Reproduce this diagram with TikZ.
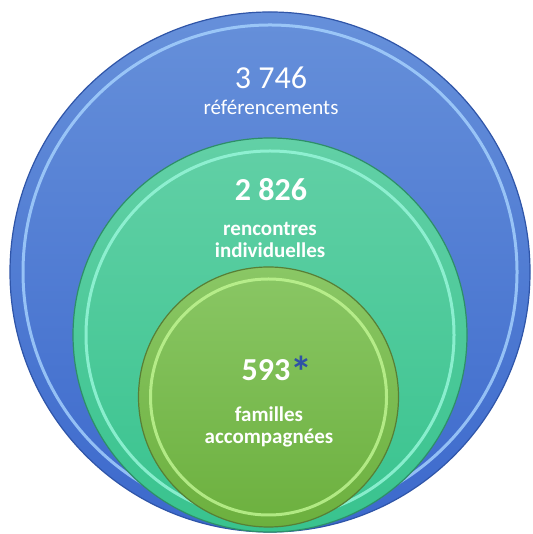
\documentclass[tikz,border=0pt]{standalone}
\usepackage{fontspec}
\setmainfont{Carlito}
\usetikzlibrary{shadings}
\definecolor{blueTop}{HTML}{6690DA}
\definecolor{blueBot}{HTML}{3C69CC}
\definecolor{blueEdge}{HTML}{2F55A8}
\definecolor{blueRing}{HTML}{A8D4FF}
\definecolor{tealTop}{HTML}{62D0A6}
\definecolor{tealBot}{HTML}{38C38E}
\definecolor{tealEdge}{HTML}{2E8F68}
\definecolor{tealRing}{HTML}{9AF8DC}
\definecolor{limeTop}{HTML}{8AC765}
\definecolor{limeBot}{HTML}{6CB03E}
\definecolor{limeEdge}{HTML}{587F35}
\definecolor{limeRing}{HTML}{C2F794}
\definecolor{starBlue}{HTML}{2F52A6}
\tikzset{
  disc/.style={circle, inner sep=0pt, minimum size=#1},
  edgeline/.style={line width=1.2pt},
  ringline/.style={line width=3pt, opacity=0.8},
  numtext/.style={text=white, font=\fontsize{32}{36}\selectfont},
  labtext/.style={text=white, font=\fontsize{21}{23}\selectfont, align=center},
}
\begin{document}
\begin{tikzpicture}[x=1pt,y=1pt]
\useasboundingbox (0,0) rectangle (532,534);
% outer circle
\node[disc=520pt, top color=blueTop, bottom color=blueBot, draw=blueEdge, edgeline] (outer) at (270,262) {};
\draw[blueRing, ringline] (outer.center) circle (247);
% middle circle
\node[disc=394pt, top color=tealTop, bottom color=tealBot, draw=tealEdge, edgeline] (middle) at (270,199) {};
\draw[tealRing, ringline] (middle.center) circle (184);
% inner circle
\node[disc=260pt, top color=limeTop, bottom color=limeBot, draw=limeEdge, edgeline] (inner) at (268.5,137) {};
\draw[limeRing, ringline] (inner.center) circle (118);
% texts
\node[numtext] (n1) at (271,456) {3 746};
\node[labtext] (l1) at (271,427) {référencements};
\node[numtext, font=\bfseries\fontsize{32}{36}\selectfont] (n2) at (271,344) {2 826};
\node[labtext, font=\bfseries\fontsize{21}{22}\selectfont] (l2) at (270,294) {rencontres\\individuelles};
\node[numtext, font=\bfseries\fontsize{32}{36}\selectfont] (n3) at (266,164) {593};
\node[anchor=west, inner sep=0pt, text=starBlue, font=\bfseries\fontsize{44}{44}\selectfont] (star) at (n3.east) [yshift=-2pt, xshift=-4pt] {*};
\node[labtext, font=\bfseries\fontsize{21}{22}\selectfont] (l3) at (269,107) {familles\\accompagnées};
\end{tikzpicture}
\end{document}
